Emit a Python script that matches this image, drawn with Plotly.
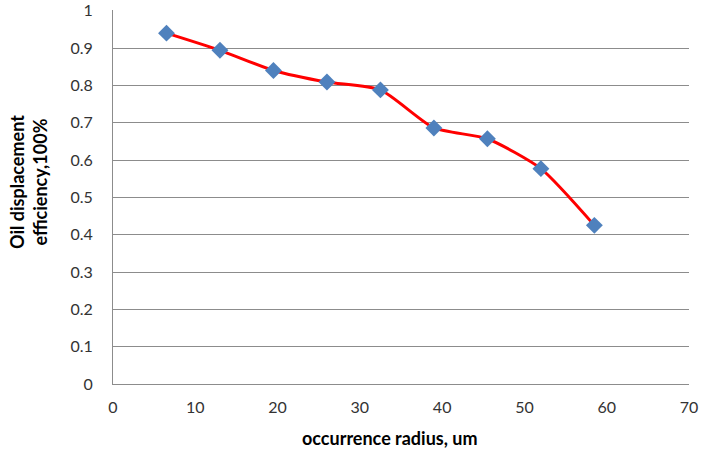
import plotly.graph_objects as go

radius = [6.5, 13, 19.5, 26, 32.5, 39, 45.5, 52, 58.5]
efficiency = [0.940, 0.894, 0.840, 0.809, 0.788, 0.686, 0.657, 0.577, 0.425]

x_ticks = [0, 10, 20, 30, 40, 50, 60, 70]
y_ticks = [0, 0.1, 0.2, 0.3, 0.4, 0.5, 0.6, 0.7, 0.8, 0.9, 1]
y_tick_text = ["0", "0.1", "0.2", "0.3", "0.4", "0.5", "0.6", "0.7", "0.8", "0.9", "1"]

x_title = "occurrence radius, um"
y_title = "Oil displacement<br>efficiency,100%"

font_family = "Lato, Open Sans, sans-serif"

fig = go.Figure()
fig.add_trace(go.Scatter(
    x=radius, y=efficiency, mode="lines+markers",
    line=dict(color="#FF0000", width=3, shape="spline", smoothing=0.6),
    marker=dict(symbol="diamond", size=13, color="#4F81BD"),
    showlegend=False,
))

fig.update_layout(
    width=703, height=450,
    margin=dict(l=113, r=14, t=10, b=66, autoexpand=False),
    paper_bgcolor="white", plot_bgcolor="white",
    font=dict(family=font_family, size=16, color="#000000"),
    xaxis=dict(
        range=[0, 70], tickvals=x_ticks, showgrid=False,
        showline=True, linecolor="#8c8c8c", linewidth=1,
        ticks="outside", ticklen=9, tickcolor="rgba(0,0,0,0)",
        zeroline=False, automargin=False,
        tickfont=dict(size=16, color="#333333"),
    ),
    yaxis=dict(
        range=[0, 1.002], tickvals=y_ticks, ticktext=y_tick_text,
        showgrid=True, gridcolor="#8c8c8c", gridwidth=1,
        showline=True, linecolor="#8c8c8c", linewidth=1,
        ticks="outside", ticklen=16, tickcolor="rgba(0,0,0,0)",
        zeroline=False, automargin=False,
        tickfont=dict(size=16, color="#333333"),
    ),
    annotations=[
        dict(text="<b>" + x_title + "</b>", xref="paper", yref="paper",
             x=(390 - 113) / 576, y=-(438 - 384) / 374, xanchor="center", yanchor="middle",
             showarrow=False, font=dict(size=18)),
        dict(text="<b>" + y_title + "</b>", xref="paper", yref="paper",
             x=-(113 - 29) / 576, y=(384 - 182) / 374, xanchor="center", yanchor="middle",
             showarrow=False, textangle=-90, font=dict(size=18)),
    ],
)

fig.write_html("out.html", config={"displayModeBar": False},
               post_script="document.body.style.margin='0';")
